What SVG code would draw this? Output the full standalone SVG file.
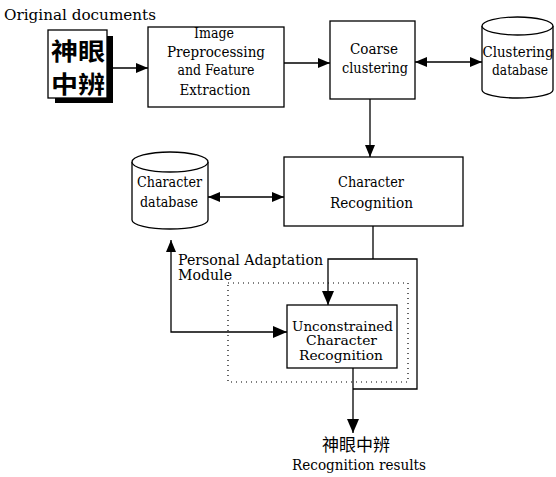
<svg xmlns="http://www.w3.org/2000/svg" width="556" height="477" viewBox="0 0 556 477">
<style>
.box{fill:#fff;stroke:#000;stroke-width:1.3}
.cyl{fill:#fff;stroke:#000;stroke-width:1.3}
.t{font-family:"DejaVu Serif","Liberation Serif",serif;font-size:14px;fill:#000}
.s{font-size:13px}
.m{text-anchor:middle}
.c{stroke:#000;stroke-width:1.3;fill:none}
.cjk{font-family:"Noto Sans CJK TC","Noto Sans CJK SC",sans-serif;font-weight:bold;fill:#000}
.cjkn{font-family:"Noto Sans CJK TC","Noto Sans CJK SC",sans-serif;font-weight:normal;fill:#000}
</style>
<defs>
<marker id="ah" viewBox="0 0 12 10" refX="12" refY="5" markerWidth="12" markerHeight="10" markerUnits="userSpaceOnUse" orient="auto-start-reverse">
<path d="M0,0 L12,5 L0,10 Z" fill="#000"/>
</marker>
<marker id="ahL" viewBox="0 0 14 12" refX="14" refY="6" markerWidth="14" markerHeight="12" markerUnits="userSpaceOnUse" orient="auto-start-reverse">
<path d="M0,0 L14,6 L0,12 Z" fill="#000"/>
</marker>
</defs>

<text class="t" x="4" y="20" textLength="152" lengthAdjust="spacingAndGlyphs" font-size="15">Original documents</text>

<g id="doc">
<rect x="55" y="36" width="58" height="67" fill="#000"/>
<rect x="48" y="30" width="59" height="68" fill="#fff" stroke="#000" stroke-width="1.3"/>
<text class="cjk" x="51" y="60" font-size="24" textLength="54" lengthAdjust="spacingAndGlyphs">神眼</text>
<text class="cjk" x="51" y="93" font-size="24" textLength="54" lengthAdjust="spacingAndGlyphs">中辨</text>
</g>

<g id="preprocess">
<rect class="box" x="148" y="27" width="136" height="80"/>
<text class="t m" x="214" y="38" textLength="40" lengthAdjust="spacingAndGlyphs">Image</text>
<text class="t m" x="216" y="57" textLength="98" lengthAdjust="spacingAndGlyphs">Preprocessing</text>
<text class="t m" x="216" y="75" textLength="77" lengthAdjust="spacingAndGlyphs">and Feature</text>
<text class="t m" x="215" y="95" textLength="71" lengthAdjust="spacingAndGlyphs">Extraction</text>
</g>

<g id="coarse">
<rect class="box" x="330" y="21" width="85" height="78"/>
<text class="t m" x="374" y="54" textLength="48" lengthAdjust="spacingAndGlyphs">Coarse</text>
<text class="t m" x="375" y="73" textLength="66" lengthAdjust="spacingAndGlyphs">clustering</text>
</g>

<g id="clusterdb">
<path class="cyl" d="M482,26 V90 A35.5,8 0 0 0 553,90 V26"/>
<ellipse class="cyl" cx="517.5" cy="26" rx="35.5" ry="9"/>
<text class="t m" x="518" y="57" textLength="71" lengthAdjust="spacingAndGlyphs">Clustering</text>
<text class="t m" x="520" y="75" textLength="56" lengthAdjust="spacingAndGlyphs">database</text>
</g>

<g id="chardb">
<path class="cyl" d="M132,162 V220 A38,9 0 0 0 208,220 V162"/>
<ellipse class="cyl" cx="170" cy="162" rx="38" ry="10"/>
<text class="t m" x="169.5" y="187" textLength="65" lengthAdjust="spacingAndGlyphs">Character</text>
<text class="t m" x="169" y="207" textLength="58" lengthAdjust="spacingAndGlyphs">database</text>
</g>

<g id="charrec">
<rect class="box" x="284" y="157" width="179" height="69"/>
<text class="t m" x="371" y="187" textLength="66" lengthAdjust="spacingAndGlyphs">Character</text>
<text class="t m" x="371.5" y="208" textLength="83" lengthAdjust="spacingAndGlyphs">Recognition</text>
</g>

<g id="module">
<rect x="228" y="283" width="180" height="99" fill="none" stroke="#000" stroke-width="1.2" stroke-dasharray="1 4"/>
<text class="t" x="178" y="265" textLength="145" lengthAdjust="spacingAndGlyphs">Personal Adaptation</text>
<text class="t" x="178" y="280" textLength="54" lengthAdjust="spacingAndGlyphs">Module</text>
</g>

<g id="unconstrained">
<rect class="box" x="287" y="305" width="110" height="63"/>
<text class="t s m" x="342.5" y="331" textLength="101" lengthAdjust="spacingAndGlyphs">Unconstrained</text>
<text class="t s m" x="341.5" y="345" textLength="71" lengthAdjust="spacingAndGlyphs">Character</text>
<text class="t s m" x="341" y="360" textLength="84" lengthAdjust="spacingAndGlyphs">Recognition</text>
</g>

<g id="results">
<text class="cjkn m" x="356" y="451" font-size="17" textLength="68" lengthAdjust="spacingAndGlyphs">神眼中辨</text>
<text class="t m" x="359" y="470" textLength="134" lengthAdjust="spacingAndGlyphs" font-size="13">Recognition results</text>
</g>

<g id="connectors">
<line class="c" x1="113" y1="68" x2="148" y2="68" marker-end="url(#ah)"/>
<line class="c" x1="284" y1="63" x2="330" y2="63" marker-end="url(#ah)"/>
<line class="c" x1="415" y1="62" x2="482" y2="62" marker-start="url(#ah)" marker-end="url(#ah)"/>
<line class="c" x1="370" y1="99" x2="370" y2="157" marker-end="url(#ah)"/>
<line class="c" x1="208" y1="197" x2="284" y2="197" marker-start="url(#ah)" marker-end="url(#ah)"/>
<line class="c" x1="373" y1="226" x2="373" y2="259"/>
<path class="c" d="M328,305 V259 H417 V389 H353" marker-start="url(#ahL)"/>
<line class="c" x1="353" y1="368" x2="353" y2="433" marker-end="url(#ahL)"/>
<path class="c" d="M171,240 V332 H287" marker-start="url(#ah)" marker-end="url(#ahL)"/>
</g>
</svg>
